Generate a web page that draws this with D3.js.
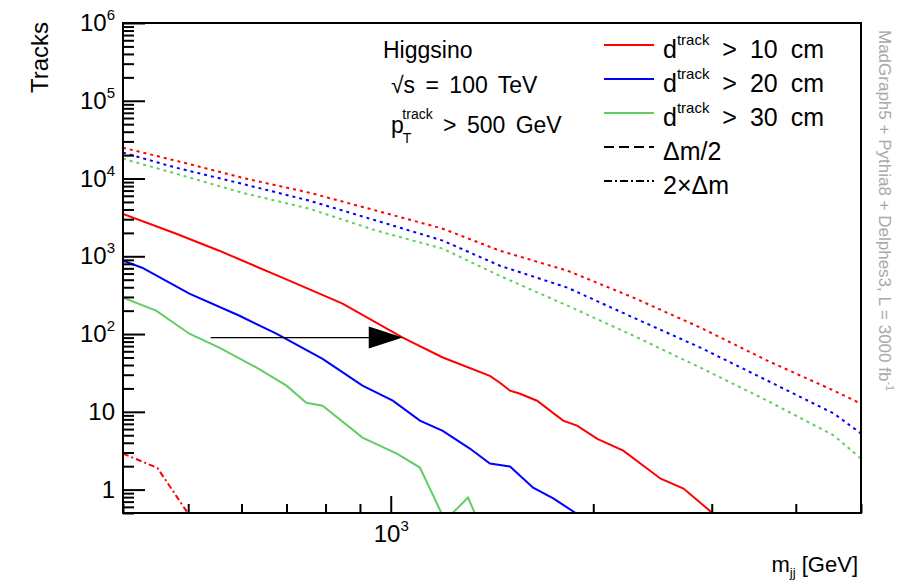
<!DOCTYPE html>
<html><head><meta charset="utf-8">
<script src="https://cdn.jsdelivr.net/npm/d3@7"></script>
<style>
body{margin:0;background:#fff}
text{font-family:"Liberation Sans",Arial,Helvetica,sans-serif}
</style>
</head><body>
<svg id="c" width="899" height="581"></svg>
<script>
// ---------------- data ----------------
// d_track > 10 cm (nominal), solid red
const massRed10   = [400, 480, 556, 690, 848, 1042, 1195, 1404, 1453, 1504, 1557, 1650, 1804, 1892, 2028, 2216, 2519, 2724, 3100];
const tracksRed10 = [3500, 1950, 1180, 531, 246, 90, 50, 29, 23.7, 18.7, 17.1, 13.9, 7.7, 6.65, 4.5, 3.17, 1.38, 1.03, 0.4];
// d_track > 20 cm, solid blue
const massBlue20   = [400, 427, 502, 596, 676, 792, 908, 1007, 1105, 1195, 1311, 1404, 1504, 1628, 1744, 1950];
const tracksBlue20 = [877, 713, 331, 172, 101, 48, 21.7, 13.9, 7.7, 5.7, 3.37, 2.16, 1.98, 1.06, 0.77, 0.41];
// d_track > 30 cm, solid green
const massGreen30   = [400, 448, 502, 556, 632, 700, 749, 792, 908, 1021, 1105, 1204, 1303, 1367];
const tracksGreen30 = [294, 200, 101, 66.8, 37, 21.7, 13.1, 12, 4.66, 2.9, 1.92, 0.4, 0.79, 0.3];
// Δm/2 variations (dotted)
const massHalf = [400, 480, 601, 757, 953, 1195, 1453, 1831, 2295, 2886, 3629, 4559, 5000];
const tracksHalfRed   = [24900, 16900, 10240, 6570, 3855, 2264, 1180, 653, 294, 121, 45.5, 18.7, 12.7];
const tracksHalfBlue  = [21500, 13760, 8570, 5190, 2870, 1590, 757, 395, 162.5, 66.9, 25.2, 9.48, 5.25];
const tracksHalfGreen = [17950, 11530, 6570, 4090, 2133, 1253, 560, 232, 95.3, 37, 13.9, 4.94, 2.5];
// 2×Δm variation (dash-dot), only red visible
const massDouble = [400, 450, 510];
const tracksDoubleRed = [2.9, 1.9, 0.38];
// arrow (mass, tracks)
const arrowFrom = [540, 90];
const arrowTo = [1042, 90];
// axis ticks
const xTickValues = [1000];
const xTickLabels = [["10", "3"]];
const yTickValues = [1, 10, 100, 1000, 10000, 100000, 1000000];
const yTickLabels = [["1", ""], ["10", ""], ["10", "2"], ["10", "3"], ["10", "4"], ["10", "5"], ["10", "6"]];
// legend
const legendLabels = [["d", "track", " > 10 cm"], ["d", "track", " > 20 cm"], ["d", "track", " > 30 cm"], ["Δm/2", "", ""], ["2×Δm", "", ""]];

// ---------------- drawing ----------------
const svg = d3.select("#c");
const L = 123, R = 861, T = 23, B = 513;
const x = d3.scaleLog().domain([400, 5000]).range([L, R]);
const y = d3.scaleLog().domain([0.5, 1e6]).range([B, T]);

svg.append("rect").attr("width", 899).attr("height", 581).attr("fill", "#fff");
svg.append("defs").append("clipPath").attr("id", "clip")
  .append("rect").attr("x", L).attr("y", T).attr("width", R - L).attr("height", B - T);

const RED = "#ff0000", BLUE = "#0000ff", GREEN = "#62cd62";
const series = [
  {m: massHalf, v: tracksHalfRed, c: RED, dash: "3,4"},
  {m: massHalf, v: tracksHalfBlue, c: BLUE, dash: "3,4"},
  {m: massHalf, v: tracksHalfGreen, c: GREEN, dash: "3,4"},
  {m: massDouble, v: tracksDoubleRed, c: RED, dash: "6,3,2,3"},
  {m: massRed10, v: tracksRed10, c: RED, dash: null},
  {m: massBlue20, v: tracksBlue20, c: BLUE, dash: null},
  {m: massGreen30, v: tracksGreen30, c: GREEN, dash: null}
];
const line = d3.line().x(d => x(d[0])).y(d => y(d[1]));
const gLines = svg.append("g").attr("clip-path", "url(#clip)");
series.forEach(s => {
  gLines.append("path")
    .attr("d", line(s.m.map((m, i) => [m, s.v[i]])))
    .attr("fill", "none").attr("stroke", s.c).attr("stroke-width", 2)
    .attr("stroke-dasharray", s.dash);
});

// arrow
const ax0 = x(arrowFrom[0]), ax1 = x(arrowTo[0]), ay = y(arrowFrom[1]);
svg.append("line").attr("x1", ax0).attr("x2", ax1 - 30).attr("y1", ay).attr("y2", ay)
  .attr("stroke", "#000").attr("stroke-width", 1.2);
svg.append("path").attr("d", `M${ax1 - 34},${ay - 11}L${ax1},${ay}L${ax1 - 34},${ay + 11}Z`).attr("fill", "#000");

// minor ticks
const yMinor = [];
for (let n = -1; n <= 5; n++) for (let k = 2; k <= 9; k++) { const v = k * Math.pow(10, n); if (v >= 0.5 && v <= 1e6) yMinor.push(v); }
const xMinor = [];
for (let n = 2; n <= 3; n++) for (let k = 2; k <= 9; k++) { const v = k * Math.pow(10, n); if (v >= 400 && v <= 5000) xMinor.push(v); }

function styleAxis(g) {
  g.attr("font-size", null).attr("font-family", null);
  g.select(".domain").remove();
  g.selectAll(".tick line").attr("stroke", "#000").attr("stroke-width", 2);
}
svg.append("g").attr("transform", `translate(${L},0)`)
  .call(d3.axisLeft(y).tickValues(yMinor).tickSize(-11).tickFormat(""))
  .call(styleAxis);
svg.append("g").attr("transform", `translate(0,${B})`)
  .call(d3.axisBottom(x).tickValues(xMinor).tickSize(-9).tickFormat(""))
  .call(styleAxis);

function supLabel(labels) {
  return function(d, i) {
    const t = d3.select(this);
    const lab = labels[i];
    t.text(null).attr("fill", "#000").attr("font-size", 24);
    t.append("tspan").text(lab[0]);
    if (lab[1]) t.append("tspan").attr("dy", -11).attr("font-size", 15).text(lab[1]);
  };
}
svg.append("g").attr("transform", `translate(${L},0)`)
  .call(d3.axisLeft(y).tickValues(yTickValues).tickSize(-22).tickPadding(8).tickFormat(""))
  .call(styleAxis)
  .selectAll(".tick text").each(supLabel(yTickLabels));
svg.append("g").attr("transform", `translate(0,${B})`)
  .call(d3.axisBottom(x).tickValues(xTickValues).tickSize(-17).tickPadding(12).tickFormat(""))
  .call(styleAxis)
  .selectAll(".tick text").each(supLabel(xTickLabels));

// frame
svg.append("rect").attr("x", L).attr("y", T).attr("width", R - L).attr("height", B - T)
  .attr("fill", "none").attr("stroke", "#000").attr("stroke-width", 2);

// axis titles
svg.append("text").attr("transform", "translate(48,22) rotate(-90)").attr("text-anchor", "end")
  .attr("font-size", 24).text("Tracks");
const xt = svg.append("text").attr("x", 858).attr("y", 572).attr("text-anchor", "end").attr("font-size", 22);
xt.append("tspan").text("m");
xt.append("tspan").attr("font-size", 13).attr("dy", 5).text("jj");
xt.append("tspan").attr("dy", -5).text(" [GeV]");

// side text
const st = svg.append("text").attr("transform", "translate(879,30) rotate(90)").attr("font-size", 17).attr("fill", "#a8a8a8");
st.append("tspan").text("MadGraph5 + Pythia8 + Delphes3, L = 3000 fb");
st.append("tspan").attr("font-size", 11).attr("dy", -7).text("-1");

// info text
svg.append("text").attr("x", 383).attr("y", 58).attr("font-size", 23).text("Higgsino");
const sq = svg.append("text").attr("x", 391).attr("y", 93).attr("font-size", 23).attr("word-spacing", 4);
sq.append("tspan").text("√s = 100 TeV");
const pt = svg.append("text").attr("x", 391).attr("y", 133).attr("font-size", 23).attr("word-spacing", 4);
pt.append("tspan").text("p");
pt.append("tspan").attr("font-size", 14).attr("dx", -1).attr("dy", 10).text("T");
pt.append("tspan").attr("font-size", 14).attr("dx", -9).attr("dy", -24).text("track");
pt.append("tspan").attr("dy", 14).text(" > 500 GeV");

// legend
const legendColors = [RED, BLUE, GREEN, "#000", "#000"];
const legendDash = [null, null, null, "10,5", "8,3,2,3"];
legendLabels.forEach((lab, i) => {
  const yl = 45 + i * 34;
  svg.append("line").attr("x1", 604).attr("x2", 654).attr("y1", yl).attr("y2", yl)
    .attr("stroke", legendColors[i]).attr("stroke-width", 2).attr("stroke-dasharray", legendDash[i]);
  const t = svg.append("text").attr("x", 663).attr("y", yl + 13).attr("font-size", 25).attr("word-spacing", 6);
  t.append("tspan").text(lab[0]);
  if (lab[1]) {
    t.append("tspan").attr("font-size", 15).attr("dy", -13).text(lab[1]);
    t.append("tspan").attr("dy", 13).text(lab[2]);
  }
});
</script>
</body></html>
